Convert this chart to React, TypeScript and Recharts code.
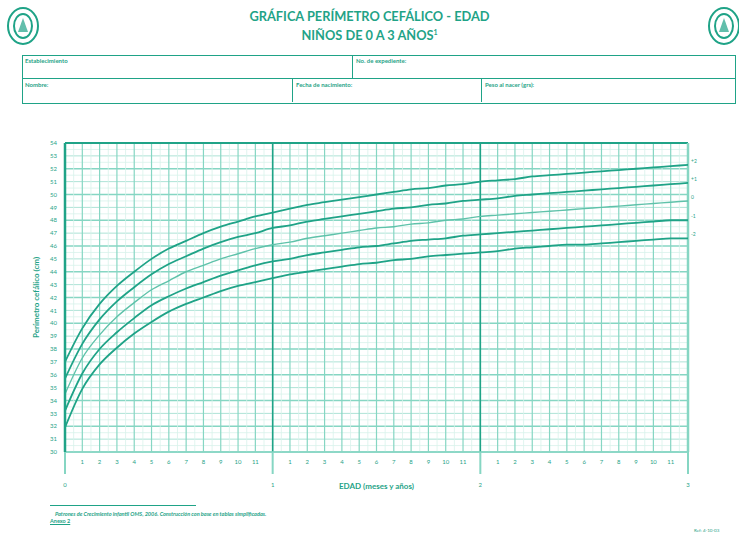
import React from 'react';
import { LineChart, Line, XAxis, YAxis, ReferenceLine } from 'recharts';

// WHO boys head circumference (cm), z-score curves, months 0..36
const months = Array.from({ length: 37 }, (_, i) => i);
const sdNeg2 = [31.9, 34.9, 36.8, 38.1, 39.2, 40.1, 40.9, 41.5, 42.0, 42.5, 42.9, 43.2, 43.5, 43.8, 44.0, 44.2, 44.4, 44.6, 44.7, 44.9, 45.0, 45.2, 45.3, 45.4, 45.5, 45.6, 45.8, 45.9, 46.0, 46.1, 46.1, 46.2, 46.3, 46.4, 46.5, 46.6, 46.6];
const sdNeg1 = [33.2, 36.1, 38.0, 39.3, 40.4, 41.4, 42.1, 42.7, 43.2, 43.7, 44.1, 44.5, 44.8, 45.0, 45.3, 45.5, 45.7, 45.9, 46.0, 46.2, 46.4, 46.5, 46.6, 46.8, 46.9, 47.0, 47.1, 47.2, 47.3, 47.4, 47.5, 47.6, 47.7, 47.8, 47.9, 48.0, 48.0];
const median = [34.5, 37.3, 39.1, 40.5, 41.6, 42.6, 43.3, 44.0, 44.5, 45.0, 45.4, 45.8, 46.1, 46.3, 46.6, 46.8, 47.0, 47.2, 47.4, 47.5, 47.7, 47.8, 48.0, 48.1, 48.3, 48.4, 48.5, 48.6, 48.7, 48.8, 48.9, 49.0, 49.1, 49.2, 49.3, 49.4, 49.5];
const sdPos1 = [35.7, 38.4, 40.3, 41.7, 42.8, 43.8, 44.6, 45.2, 45.8, 46.3, 46.7, 47.0, 47.4, 47.6, 47.9, 48.1, 48.3, 48.5, 48.7, 48.9, 49.0, 49.2, 49.3, 49.5, 49.6, 49.7, 49.9, 50.0, 50.1, 50.2, 50.3, 50.4, 50.5, 50.6, 50.7, 50.8, 50.9];
const sdPos2 = [37.0, 39.6, 41.5, 42.9, 44.0, 45.0, 45.8, 46.4, 47.0, 47.5, 47.9, 48.3, 48.6, 48.9, 49.2, 49.4, 49.6, 49.8, 50.0, 50.2, 50.4, 50.5, 50.7, 50.8, 51.0, 51.1, 51.2, 51.4, 51.5, 51.6, 51.7, 51.8, 51.9, 52.0, 52.1, 52.2, 52.3];

const curveLabels = { p2: '+2', p1: '+1', m: '0', n1: '-1', n2: '-2' };
const cmTicks = Array.from({ length: 25 }, (_, i) => 30 + i);
const yearLines = [12, 24];

const data = months.map((m, i) => ({
  m,
  n2: sdNeg2[i],
  n1: sdNeg1[i],
  md: median[i],
  p1: sdPos1[i],
  p2: sdPos2[i]
}));

const TEAL = '#1fa387';
const GRID = '#86d6c3';
const FAINT = '#d8f2eb';
const FONT = 'Lato, "Open Sans", sans-serif';

const MonthTick = (props: any) => {
  const { x, y, payload } = props;
  const v = payload.value;
  if (v % 12 === 0) {
    return (
      <g>
        <line x1={x} y1={y} x2={x} y2={y + 22} stroke={GRID} strokeWidth={2} />
        <text x={x} y={y + 35} textAnchor="middle" fontSize={6} fill={TEAL} fontFamily={FONT}>
          {v / 12}
        </text>
      </g>
    );
  }
  return (
    <text x={x} y={y + 12} textAnchor="middle" fontSize={6} fill={TEAL} fontFamily={FONT}>
      {v % 12}
    </text>
  );
};

const endLabel = (text: string) => (props: any) => {
  const { x, y, index } = props;
  if (index !== months.length - 1) return null;
  return (
    <text x={x + 3} y={y - 2} fontSize={5} fill={TEAL} fontFamily={FONT}>
      {text}
    </text>
  );
};

const Logo = ({ x }: { x: number }) => (
  <svg style={{ position: 'absolute', left: x, top: 6 }} width={34} height={40}>
    <ellipse cx={17} cy={20} rx={15} ry={18} fill="none" stroke={TEAL} strokeWidth={2} />
    <ellipse cx={17} cy={20} rx={9} ry={12} fill="none" stroke={TEAL} strokeWidth={2} />
    <path d="M12 26 L17 12 L22 26 Z" fill={TEAL} opacity={0.7} />
  </svg>
);

const lbl: React.CSSProperties = {
  position: 'absolute',
  fontSize: 6,
  fontWeight: 700,
  color: TEAL,
  fontFamily: FONT
};

export default function App() {
  return (
    <div style={{ position: 'absolute', left: 0, top: 0, width: 739, height: 535, background: '#fff', fontFamily: FONT, overflow: 'hidden' }}>
      <Logo x={6} />
      <Logo x={707} />
      <div style={{ position: 'absolute', left: 0, width: 739, top: 8, textAlign: 'center', color: TEAL, fontWeight: 700, fontSize: 12.8, lineHeight: '16px' }}>
        <div>GRÁFICA PERÍMETRO CEFÁLICO - EDAD</div>
        <div>
          NIÑOS DE 0 A 3 AÑOS<sup style={{ fontSize: 7 }}>1</sup>
        </div>
      </div>
      {/* form boxes */}
      <div style={{ position: 'absolute', left: 22, top: 55, width: 712, height: 47, border: `1px solid ${TEAL}` }} />
      <div style={{ position: 'absolute', left: 22, top: 78, width: 713, height: 1, background: TEAL }} />
      <div style={{ position: 'absolute', left: 352, top: 55, width: 1, height: 24, background: TEAL }} />
      <div style={{ position: 'absolute', left: 292, top: 78, width: 1, height: 24, background: TEAL }} />
      <div style={{ position: 'absolute', left: 481, top: 78, width: 1, height: 24, background: TEAL }} />
      <div style={{ ...lbl, left: 25, top: 57 }}>Establecimiento</div>
      <div style={{ ...lbl, left: 356, top: 57 }}>No. de expediente:</div>
      <div style={{ ...lbl, left: 25, top: 81 }}>Nombre:</div>
      <div style={{ ...lbl, left: 296, top: 81 }}>Fecha de nacimiento:</div>
      <div style={{ ...lbl, left: 485, top: 81 }}>Peso al nacer (grs):</div>

      <div style={{ position: 'absolute', left: 0, top: 0 }}>
        <LineChart width={739} height={535} data={data} margin={{ top: 143, right: 0, bottom: 53, left: 0 }}>
          {cmTicks.map((v) => (
            <ReferenceLine key={'h' + v} yAxisId="l" y={v} stroke={v % 2 === 0 ? GRID : '#ade3d6'} strokeWidth={v % 2 === 0 ? 1.3 : 1} />
          ))}
          {cmTicks.slice(0, -1).map((v) => (
            <ReferenceLine key={'hh' + v} yAxisId="l" y={v + 0.5} stroke={FAINT} strokeWidth={0.8} />
          ))}
          {months.slice(0, -1).map((v) => (
            <ReferenceLine key={'vh' + v} yAxisId="l" x={v + 0.5} stroke={FAINT} strokeWidth={0.8} />
          ))}
          {months.map((v) => (
            <ReferenceLine key={'v' + v} yAxisId="l" x={v} stroke={GRID} strokeWidth={1.2} />
          ))}
          {yearLines.map((v) => (
            <ReferenceLine key={'y' + v} yAxisId="l" x={v} stroke={TEAL} strokeWidth={1.6} />
          ))}
          <ReferenceLine yAxisId="l" y={54} stroke={TEAL} strokeWidth={2} />
          <ReferenceLine yAxisId="l" x={36} stroke={GRID} strokeWidth={2.5} />
          <XAxis
            dataKey="m"
            type="number"
            domain={[0, 36]}
            ticks={months}
            interval={0}
            tickSize={0}
            tickMargin={0}
            height={30}
            axisLine={{ stroke: GRID, strokeWidth: 1.5 }}
            tick={<MonthTick />}
            label={{ value: 'EDAD (meses y años)', position: 'insideBottom', offset: -7, fill: TEAL, fontSize: 8, fontWeight: 700, fontFamily: FONT }}
          />
          <YAxis
            yAxisId="l"
            domain={[30, 54]}
            ticks={cmTicks}
            interval={0}
            width={65}
            tickSize={0}
            tickMargin={8}
            axisLine={{ stroke: TEAL, strokeWidth: 2.5 }}
            tick={{ fontSize: 6, fill: TEAL, fontFamily: FONT }}
            label={{ value: 'Perímetro cefálico (cm)', angle: -90, position: 'insideLeft', offset: 36, fill: TEAL, fontSize: 8, fontWeight: 700, fontFamily: FONT, style: { textAnchor: 'middle' } }}
          />
          <YAxis
            yAxisId="r"
            orientation="right"
            domain={[30, 54]}
            ticks={cmTicks}
            interval={0}
            width={51}
            tickSize={0}
            tickMargin={14}
            axisLine={false}
            tick={{ fontSize: 6, fill: TEAL, fontFamily: FONT }}
          />
          <Line yAxisId="l" type="monotone" dataKey="p2" stroke={TEAL} strokeWidth={1.8} dot={false} isAnimationActive={false} label={endLabel(curveLabels.p2)} />
          <Line yAxisId="l" type="monotone" dataKey="p1" stroke={TEAL} strokeWidth={1.8} dot={false} isAnimationActive={false} label={endLabel(curveLabels.p1)} />
          <Line yAxisId="l" type="monotone" dataKey="md" stroke="#5fc2aa" strokeWidth={1.4} dot={false} isAnimationActive={false} label={endLabel(curveLabels.m)} />
          <Line yAxisId="l" type="monotone" dataKey="n1" stroke={TEAL} strokeWidth={1.8} dot={false} isAnimationActive={false} label={endLabel(curveLabels.n1)} />
          <Line yAxisId="l" type="monotone" dataKey="n2" stroke={TEAL} strokeWidth={1.8} dot={false} isAnimationActive={false} label={endLabel(curveLabels.n2)} />
        </LineChart>
      </div>

      {/* footnote */}
      <div style={{ position: 'absolute', left: 50, top: 505, width: 146, height: 1, background: TEAL }} />
      <div style={{ position: 'absolute', left: 55, top: 511, fontSize: 5.5, fontStyle: 'italic', fontWeight: 700, color: TEAL }}>
        Patrones de Crecimiento infantil OMS, 2006. Construcción con base en tablas simplificadas.
      </div>
      <div style={{ position: 'absolute', left: 50, top: 518, fontSize: 5.5, fontWeight: 700, color: TEAL }}>
        <span style={{ textDecoration: 'underline' }}>Anexo 2</span>
      </div>
      <div style={{ position: 'absolute', left: 694, top: 528, fontSize: 4.5, color: TEAL }}>Ref: 4-10-03</div>
    </div>
  );
}
